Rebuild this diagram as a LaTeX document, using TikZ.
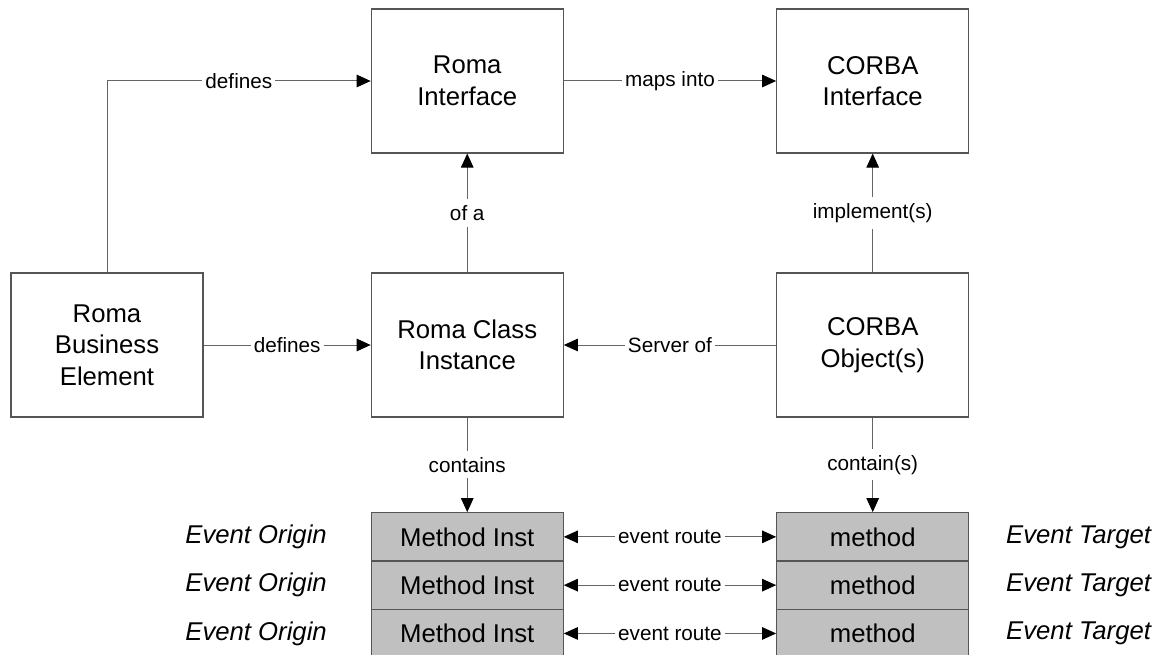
\documentclass[tikz,border=0pt]{standalone}
\usepackage{fontspec}
\setmainfont{Liberation Sans}
\usetikzlibrary{arrows.meta}
\definecolor{edgegray}{RGB}{85,85,85}
\definecolor{linegray}{RGB}{100,100,100}
\definecolor{rowfill}{RGB}{192,192,192}
\tikzset{
  entity/.style={draw=edgegray, line width=1.1pt, fill=white, rectangle,
    minimum width=192pt, minimum height=144pt, inner sep=0pt, align=center,
    font=\fontsize{25.7}{31.5}\selectfont},
  row/.style={draw=edgegray, line width=1.1pt, fill=rowfill, rectangle,
    minimum width=192pt, minimum height=48.3pt, inner sep=0pt,
    font=\fontsize{25.7}{30}\selectfont},
  side/.style={font=\fontsize{25.7}{30}\selectfont\itshape, inner sep=0pt},
  head/.tip={Triangle[length=14pt,width=12.5pt,color=black]},
  tip/.style={-head, draw=linegray, line width=1pt},
  both/.style={head-head, draw=linegray, line width=1pt},
  lbl/.style={fill=white, inner xsep=3pt, inner ysep=6pt, text=black,
    font=\fontsize{20.7}{24}\selectfont}
}
\begin{document}
\begin{tikzpicture}[x=1pt, y=-1pt]
\useasboundingbox (0,0) rectangle (1165,655);

% main entities
\node[entity] (ri)  at (467.25,81)  {Roma\\Interface};
\node[entity] (ci)  at (872.7,81)   {CORBA\\Interface};
\node[entity] (rbe) at (107,345)    {Roma\\Business\\Element};
\node[entity] (rci) at (467.25,345) {Roma Class\\Instance};
\node[entity] (co)  at (872.7,345)  {CORBA\\Object(s)};

% method rows with their origin / target captions
\foreach \i/\y in {1/536.85, 2/585.15, 3/633.45} {
  \node[row] (mi\i) at (467.25,\y) {Method Inst};
  \node[row] (m\i)  at (872.7,\y)  {method};
  \node[side, anchor=east] (eo\i) at (327,\y) {Event Origin};
  \node[side, anchor=west] (et\i) at (1006,\y) {Event Target};
}

% relations
\draw[tip] (rbe.north) |- (ri.west) node[lbl, pos=0.75] {defines};
\draw[tip] (ri.east) -- (ci.west) node[lbl, midway] {maps into};
\draw[tip] (rci.north) -- (ri.south) node[lbl, midway] {of a};
\draw[tip] (co.north) -- (ci.south) node[lbl, midway] {implement(s)};
\draw[tip] (rbe.east) -- (rci.west) node[lbl, midway] {defines};
\draw[tip] (co.west) -- (rci.east) node[lbl, midway] {Server of};
\draw[tip] (rci.south) -- (mi1.north) node[lbl, midway] {contains};
\draw[tip] (co.south) -- (m1.north) node[lbl, midway] {contain(s)};
\foreach \i in {1,2,3} {
  \draw[both] (mi\i.east) -- (m\i.west) node[lbl, midway] {event route};
}
\end{tikzpicture}
\end{document}
